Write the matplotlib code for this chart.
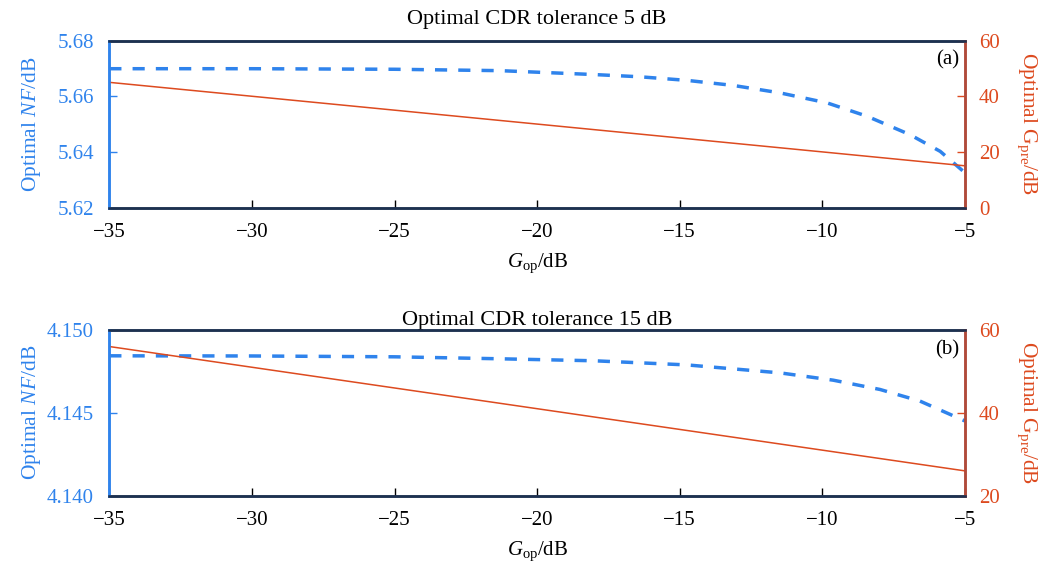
import matplotlib.pyplot as plt
import numpy as np

# data
gop_a = [-35, -30, -25, -21.3, -18.0, -16.4, -14.74, -13.13, -11.48, -9.83, -8.43, -6.93, -5.87, -5.0]
nf_5 = [5.6699, 5.6699, 5.6697, 5.6692, 5.6678, 5.6670, 5.6657, 5.6639, 5.6612, 5.6576, 5.6528, 5.6462, 5.6402, 5.6325]
gop_b = [-35, -30, -25, -21.3, -18.0, -14.74, -11.48, -9.62, -7.98, -6.58, -5.0]
nf_15 = [4.14844, 4.14843, 4.14838, 4.14826, 4.14814, 4.14789, 4.14741, 4.14697, 4.14641, 4.14571, 4.14451]
gpre_x = [-35, -5]
gpre_5 = [45, 15]
gpre_15 = [56, 26]

titles = ['Optimal CDR tolerance 5 dB', 'Optimal CDR tolerance 15 dB']
title_pads = [12, 3.5]
panel_tags = ['(a)', '(b)']
nf_ylims = [(5.62, 5.68), (4.140, 4.150)]
nf_ticks = [[5.62, 5.64, 5.66, 5.68], [4.140, 4.145, 4.150]]
nf_fmt = ['%.2f', '%.3f']
g_ylims = [(0, 60), (20, 60)]
g_ticks = [[0, 20, 40, 60], [20, 40, 60]]

blue = '#2f83ec'
red = '#dd4a1f'
navy = '#1d3150'

plt.rcParams['font.family'] = ['Liberation Serif', 'DejaVu Serif']
plt.rcParams['mathtext.fontset'] = 'custom'
plt.rcParams['mathtext.rm'] = 'Liberation Serif'
plt.rcParams['mathtext.it'] = 'Liberation Serif:italic'

fig = plt.figure(figsize=(10.41, 5.64), dpi=100)
boxes = [[0.105, 0.632, 0.822, 0.296], [0.105, 0.121, 0.822, 0.294]]

xs = [gop_a, gop_b]
nf_data = [nf_5, nf_15]
g_data = [gpre_5, gpre_15]

for i in range(2):
    ax = fig.add_axes(boxes[i])
    ax2 = ax.twinx()
    ax.plot(xs[i], nf_data[i], color=blue, lw=2.5, ls=(0, (3.5, 3.2)))
    ax2.plot(gpre_x, g_data[i], color=red, lw=1.1)
    ax.set_xlim(-35, -5)
    ax.set_ylim(*nf_ylims[i])
    ax.set_yticks(nf_ticks[i])
    ax.yaxis.set_major_formatter(plt.FormatStrFormatter(nf_fmt[i]))
    ax2.set_ylim(*g_ylims[i])
    ax2.set_yticks(g_ticks[i])
    ax.set_xticks(range(-35, 0, 5))
    ax.set_xticklabels(['\u221235', '\u221230', '\u221225', '\u221220', '\u221215', '\u221210', '\u22125'])
    ax.tick_params(axis='x', direction='in', length=6, width=1, pad=11, colors='black', labelsize=15)
    ax.tick_params(axis='y', direction='in', length=6, width=1, pad=11, colors=blue, labelsize=15)
    ax2.tick_params(axis='y', direction='in', length=6, width=1, pad=10, colors=red, labelsize=15)
    for a in (ax, ax2):
        a.spines['top'].set_color(navy)
        a.spines['bottom'].set_color(navy)
        a.spines['left'].set_color(blue)
        a.spines['right'].set_color('#b04a3a')
        for s in a.spines.values():
            s.set_linewidth(1.8)
    ax.set_title(titles[i], fontsize=16, pad=title_pads[i])
    ax.set_xlabel(r'$\mathit{G}_{\mathrm{op}}$/dB', fontsize=15, labelpad=7)
    ax.set_ylabel(r'Optimal $\mathit{NF}$/dB', color=blue, fontsize=15.5)
    ax.yaxis.set_label_coords(-0.078, 0.5)
    ax2.set_ylabel(r'Optimal G$_{\mathrm{pre}}$/dB', color=red, fontsize=15.5, rotation=270, va='center')
    ax2.yaxis.set_label_coords(1.072, 0.5)
    ax.text(0.993, 0.94, panel_tags[i], transform=ax.transAxes, ha='right', va='top', fontsize=15)

fig.savefig('out.png', dpi=100)
